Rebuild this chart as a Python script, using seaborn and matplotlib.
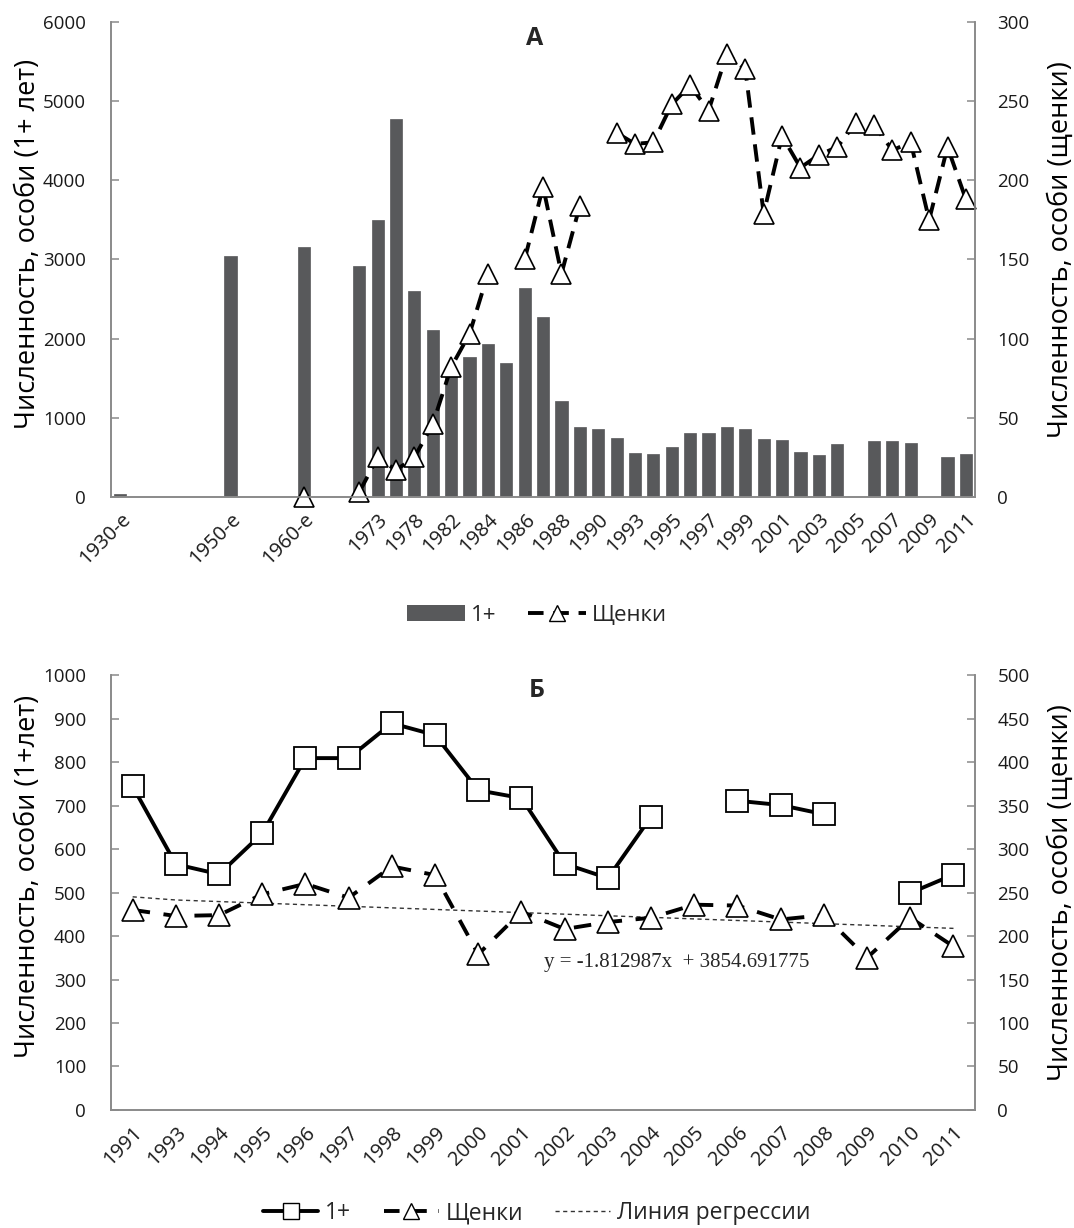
import numpy as np
import pandas as pd
import seaborn as sns
import matplotlib.pyplot as plt
from matplotlib.lines import Line2D
from matplotlib.patches import Patch

nan = np.nan

# --- Panel A: 47 categories (labels shown every 2nd category) ---
cat_labels_a = ["1930-е", "", "", "", "", "", "1950-е", "", "", "", "1960-е", "", "", "",
                "1973", "", "1978", "", "1982", "", "1984", "", "1986", "", "1988", "",
                "1990", "", "1993", "", "1995", "", "1997", "", "1999", "", "2001", "",
                "2003", "", "2005", "", "2007", "", "2009", "", "2011"]
adults_a = [40, nan, nan, nan, nan, nan, 3050, nan, nan, nan, 3160, nan, nan,
            2920, 3500, 4780, 2600, 2110, 1600, 1770, 1930, 1690, 2640, 2270, 1210, 890,
            855, 744, 560, 541, 635, 805, 809, 889, 862, 735, 717, 565, 532, 674,
            nan, 711, 701, 680, nan, 499, 541]
pups_a = [nan, nan, nan, nan, nan, nan, nan, nan, nan, nan, 0, nan, nan,
          3, 25, 17, 25, 46, 82, 103, 141, nan, 150, 196, 141, 184,
          nan, 230, 223, 224, 248, 260, 244, 280, 270, 179, 228, 208, 216, 221,
          236, 235, 219, 224, 175, 221, 188]

# --- Panel B ---
years_b = [1991, 1993, 1994, 1995, 1996, 1997, 1998, 1999, 2000, 2001,
           2002, 2003, 2004, 2005, 2006, 2007, 2008, 2009, 2010, 2011]
adults_b = [744, 565, 542, 636, 809, 809, 889, 862, 735, 717,
            566, 533, 674, nan, 711, 701, 680, nan, 499, 541]
pups_b = [230, 223, 224, 248, 260, 244, 280, 270, 179, 228,
          208, 216, 221, 236, 235, 219, 224, 175, 221, 188]
reg_slope = -1.812987
reg_intercept = 3854.691775

sns.set_style("white")
plt.rcParams['font.family'] = ['Open Sans', 'DejaVu Sans']
tick_col = '#1a1a1a'
spine_col = '#8a8a8a'
bar_col = '#58595b'
fs_tick = 13.5
fs_xtick = 14.5
fs_lab = 19.5

fig = plt.figure(figsize=(10.74, 12.28), dpi=100)


def style_axes(ax, axr, n):
    for a in (ax, axr):
        a.spines['top'].set_visible(False)
        for s in ('left', 'right', 'bottom'):
            a.spines[s].set_color(spine_col)
            a.spines[s].set_linewidth(1.2)
        a.grid(False)
    ax.set_xlim(-0.5, n - 0.5)
    ax.set_xticks(np.arange(-0.5, n, 1.0), minor=True)
    ax.tick_params(axis='x', which='major', length=0, pad=9, labelsize=fs_xtick, colors=tick_col)
    ax.tick_params(axis='x', which='minor', length=7, width=1.1, color=spine_col, direction='out')
    ax.tick_params(axis='y', direction='in', length=6, width=1.1, color=spine_col,
                   pad=18, labelsize=fs_tick, labelcolor=tick_col)
    axr.tick_params(axis='y', direction='in', length=6, width=1.1, color=spine_col,
                    pad=16, labelsize=fs_tick, labelcolor=tick_col)
    for lab in ax.get_xticklabels():
        lab.set_rotation(45)
        lab.set_ha('right')
        lab.set_rotation_mode('anchor')


# ================= Panel A =================
n_a = len(cat_labels_a)
pos_a = np.arange(n_a)
ax1 = fig.add_axes([0.1034, 0.5953, 0.8045, 0.3868])
df_a = pd.DataFrame({"cat": [str(i) for i in pos_a], "adults": adults_a}).dropna()
sns.barplot(data=df_a, x="cat", y="adults", order=[str(i) for i in pos_a], color=bar_col,
            saturation=1, width=0.66, errorbar=None, edgecolor=bar_col, linewidth=0.5, ax=ax1)
ax1.set_ylim(0, 6000)
ax1.set_yticks(np.arange(0, 6001, 1000))
ax1.set_xticks(pos_a)
ax1.set_xticklabels(cat_labels_a)
ax1.set_xlabel("")
ax1.set_ylabel("Численность, особи (1+ лет)", fontsize=fs_lab, color='black')
ax1.yaxis.set_label_coords(-0.080, 0.533)

ax1r = ax1.twinx()
ax1r.plot(pos_a, pups_a, color='black', lw=2.8, linestyle=(0, (4.5, 2.5)),
          marker='^', markersize=15, markerfacecolor='white', markeredgecolor='black',
          markeredgewidth=1.2, clip_on=False)
ax1r.set_ylim(0, 300)
ax1r.set_yticks(np.arange(0, 301, 50))
ax1r.set_ylabel("Численность, особи (щенки)", fontsize=fs_lab, color='black')
ax1r.yaxis.set_label_coords(1.083, 0.52)
style_axes(ax1, ax1r, n_a)
ax1.text(0.49, 0.966, "А", transform=ax1.transAxes, ha='center', va='center',
         fontsize=18, fontweight='bold')

fig.legend(handles=[Patch(facecolor=bar_col, edgecolor='none', label="1+"),
                    Line2D([], [], color='black', lw=2.8, linestyle=(0, (4, 2.5)), marker='^',
                           markersize=11, markerfacecolor='white', markeredgecolor='black',
                           label="Щенки")],
           loc='center', bbox_to_anchor=(0.5, 0.499), ncol=2, frameon=False,
           fontsize=16, handlelength=2.6, columnspacing=1.4, handletextpad=0.3)

# ================= Panel B =================
n_b = len(years_b)
pos_b = np.arange(n_b)
ax2 = fig.add_axes([0.1034, 0.0961, 0.8045, 0.3542])
ax2.plot(pos_b, adults_b, color='black', lw=2.8, marker='s', markersize=16,
         markerfacecolor='white', markeredgecolor='black', markeredgewidth=1.3, zorder=3)
ax2.set_ylim(0, 1000)
ax2.set_yticks(np.arange(0, 1001, 100))
ax2.set_xticks(pos_b)
ax2.set_xticklabels([str(y) for y in years_b])
ax2.set_ylabel("Численность, особи (1+лет)", fontsize=fs_lab, color='black')
ax2.yaxis.set_label_coords(-0.080, 0.536)

ax2r = ax2.twinx()
reg_vals = [reg_slope * y + reg_intercept for y in years_b]
ax2r.plot(pos_b, reg_vals, color='#333333', lw=1.0, linestyle=(0, (3, 2.5)))
ax2r.plot(pos_b, pups_b, color='black', lw=2.8, linestyle=(0, (4.5, 3.5)),
          marker='^', markersize=16, markerfacecolor='white', markeredgecolor='black',
          markeredgewidth=1.2)
ax2r.set_ylim(0, 500)
ax2r.set_yticks(np.arange(0, 501, 50))
ax2r.set_ylabel("Численность, особи (щенки)", fontsize=fs_lab, color='black')
ax2r.yaxis.set_label_coords(1.083, 0.5)
style_axes(ax2, ax2r, n_b)
ax2.text(0.493, 0.9655, "Б", transform=ax2.transAxes, ha='center', va='center',
         fontsize=18, fontweight='bold')
ax2.text(0.655, 0.34, "y = -1.812987x  + 3854.691775", transform=ax2.transAxes,
         ha='center', va='center', fontsize=15, family='Liberation Serif', color='#262626')

fig.legend(handles=[Line2D([], [], color='black', lw=2.8, marker='s', markersize=12,
                           markerfacecolor='white', markeredgecolor='black', label="1+"),
                    Line2D([], [], color='black', lw=2.8, linestyle=(0, (4, 3)), marker='^',
                           markersize=12, markerfacecolor='white', markeredgecolor='black',
                           label="Щенки"),
                    Line2D([], [], color='#333333', lw=1.0, linestyle=(0, (3, 2.5)),
                           label="Линия регрессии")],
           loc='center', bbox_to_anchor=(0.5, 0.012), ncol=3, frameon=False,
           fontsize=16.5, handlelength=2.4, columnspacing=1.4, handletextpad=0.3)

plt.savefig("out.png", dpi=100)
